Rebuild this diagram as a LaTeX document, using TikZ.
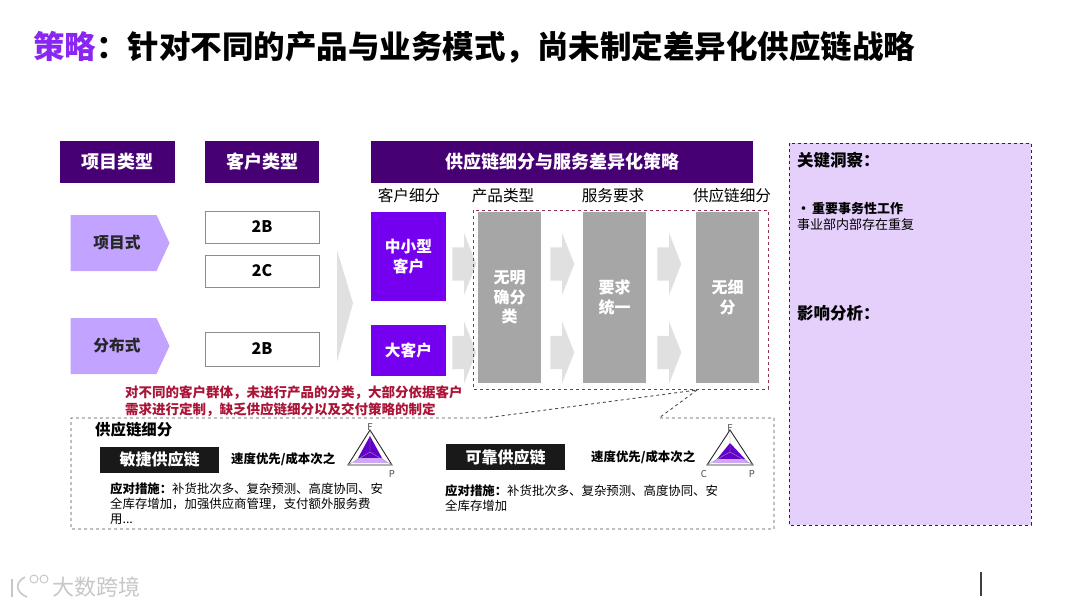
\documentclass[tikz,border=0pt]{standalone}
\usepackage{fontspec}
\setmainfont{Noto Sans CJK SC}
\usetikzlibrary{arrows.meta,positioning,shapes.arrows,shapes.symbols}
\definecolor{acdark}{RGB}{70,0,115}
\definecolor{acviolet}{RGB}{117,0,240}
\definecolor{aclilac}{RGB}{194,163,255}
\definecolor{acpanel}{RGB}{228,208,251}
\definecolor{acred}{RGB}{170,20,55}
\definecolor{acgrey}{RGB}{166,166,166}
\definecolor{acpale}{RGB}{224,224,224}

\begin{document}
\begin{tikzpicture}[x=1pt,y=-1pt,
  head/.style={fill=acdark,text=white,font=\fontsize{18}{22}\selectfont\bfseries,minimum height=42pt,inner sep=0pt},
  tag/.style={signal,signal to=east,signal pointer angle=130,fill=aclilac,text=black!85,font=\fontsize{15.7}{18}\selectfont\bfseries,minimum width=99pt,minimum height=56pt,inner sep=0pt},
  cust/.style={draw=black!45,fill=white,font=\fontsize{16}{18}\selectfont\bfseries,minimum width=114pt,minimum height=32pt,inner sep=0pt},
  seg/.style={fill=acviolet,text=white,align=center,font=\fontsize{15.7}{20}\selectfont\bfseries,minimum width=75pt,inner sep=0pt},
  col/.style={font=\fontsize{15.6}{18}\selectfont,inner sep=0pt},
  bar/.style={fill=acgrey,text=white,align=center,font=\fontsize{16}{19.5}\selectfont\bfseries,minimum width=63pt,minimum height=171pt,inner sep=0pt},
  flowarrow/.style={single arrow,fill=acpale,minimum height=24pt,minimum width=62pt,single arrow head extend=14.5pt,single arrow tip angle=137,inner xsep=0pt,inner ysep=16.5pt},
  blackbox/.style={fill=black!90,text=white,font=\fontsize{16}{18}\selectfont\bfseries,minimum width=119pt,minimum height=26pt,inner sep=0pt},
  note/.style={anchor=west,align=left,inner sep=0pt,font=\fontsize{12.4}{15.3}\selectfont},
  smallb/.style={anchor=west,inner sep=0pt,font=\fontsize{12.4}{14}\selectfont\bfseries},
  apex/.style={inner sep=0pt,text=black!70,font=\fontsize{9.5}{10}\selectfont},
  outline/.style={dashed,draw=black!70,line width=0.9pt}]
\useasboundingbox (0,0) rectangle (1080,608);
% title
\node[anchor=west,inner sep=0pt,font=\fontsize{31.5}{36}\selectfont\bfseries] (title) at (33,47) {\textcolor{acviolet!85!white}{策略}：针对不同的产品与业务模式，尚未制定差异化供应链战略};
% left columns
\node[head,minimum width=115pt] (typeproj) at (117.5,162) {项目类型};
\node[head,minimum width=114pt] (typecust) at (262,162) {客户类型};
\node[head,minimum width=382pt] (typesc) at (562,161.5) {供应链细分与服务差异化策略};
\node[tag] (proj) at (113.5,243) {\hspace{7pt}项目式};
\node[tag] (dist) at (113.5,346) {\hspace{7pt}分布式};
\node[cust] (bb) at (262,227) {2B};
\node[cust] (bc) at (262,271) {2C};
\node[cust,minimum height=34pt] (bbb) at (262,349) {2B};
\fill[acpale] (337,250) -- (353,303) -- (337,362) -- cycle;
% segmentation
\node[col] (l1) at (409,196) {客户细分};
\node[col] (l2) at (503,196) {产品类型};
\node[col] (l3) at (613,196) {服务要求};
\node[col] (l4) at (732,196) {供应链细分};
\node[seg,minimum height=89pt] (mid) at (408.5,256.5) {中小型\\客户};
\node[seg,minimum height=51pt] (big) at (408.5,350.5) {大客户};
\node[flowarrow] (a1) at (461,264) {};
\node[flowarrow] (a2) at (559,264) {};
\node[flowarrow] (a3) at (666,264) {};
\node[flowarrow] (b1) at (461,352.5) {};
\node[flowarrow] (b2) at (559,352.5) {};
\node[flowarrow] (b3) at (666,352.5) {};
\node[bar] (prod) at (509.5,297.5) {无明\\确分\\类};
\node[bar] (serv) at (614.5,297.5) {要求\\统一};
\node[bar] (chain) at (727.5,297.5) {无细\\分};
\draw[dashed,draw=acred!75!black!85!white,thick] (473,210) rectangle (768,389);
% red remark
\node[note,text=acred,font=\fontsize{13.5}{17}\selectfont\bfseries] (remark) at (125,401.5) {对不同的客户群体，未进行产品的分类，大部分依据客户\\需求进行定制，缺乏供应链细分以及交付策略的制定};
% callout
\coordinate (gapl) at (485,418);
\coordinate (gapr) at (659,418);
\coordinate (tip) at (697,390);
\draw[outline] (tip) -- (gapr) -- (774,418) -- (774,529) -- (71,529) -- (71,418) -- (gapl) -- cycle;
\node[anchor=west,inner sep=0pt,font=\fontsize{15.4}{18}\selectfont\bfseries] (sctitle) at (95,430) {供应链细分};
\node[blackbox] (agile) at (159.5,459.5) {敏捷供应链};
\node[smallb] (speeda) at (231,459) {速度优先/成本次之};
\node[note] (notea) at (110,503.5) {\textbf{应对措施：}补货批次多、复杂预测、高度协同、安\\全库存增加，加强供应商管理，支付额外服务费\\用...};
\node[blackbox] (reliable) at (505.5,457) {可靠供应链};
\node[smallb] (speedb) at (591,457) {速度优先/成本次之};
\node[note] (noteb) at (445,498) {\textbf{应对措施：}补货批次多、复杂预测、高度协同、安\\全库存增加};
% radar marks
\coordinate (fa) at (370,430);
\coordinate (ca) at (348,465);
\coordinate (pa) at (392,465);
\fill[acviolet!85!black] (370,436) -- (382,458) -- (358,458) -- cycle;
\fill[acviolet!35] (358,458) -- (382,458) -- (388,463) -- (353,463) -- cycle;
\draw[black!85,line width=0.9pt] (fa) -- (pa) -- (ca) -- cycle;
\draw[black!40,line width=0.4pt] (fa) -- (370,452) (ca) -- (370,452) (pa) -- (370,452);
\node[apex] (fla) at (370,427) {F};
\node[apex] (pla) at (392,474) {P};
\coordinate (fb) at (730,430);
\coordinate (cb) at (707,465);
\coordinate (pb) at (753,465);
\fill[acviolet!85!black] (730,443) -- (745,459) -- (717,459) -- cycle;
\fill[acviolet!35] (717,459) -- (745,459) -- (749,463) -- (712,463) -- cycle;
\draw[black!85,line width=0.9pt] (fb) -- (pb) -- (cb) -- cycle;
\draw[black!40,line width=0.4pt] (fb) -- (730,452) (cb) -- (730,452) (pb) -- (730,452);
\node[apex] (flb) at (730,428) {F};
\node[apex] (clb) at (704,474) {C};
\node[apex] (plb) at (752,474) {P};
% insight panel
\draw[dashed,draw=acdark!75!acviolet,fill=acpanel,thick] (789,143) rectangle (1031,525);
\node[anchor=west,inner sep=0pt,font=\fontsize{16.5}{18}\selectfont\bfseries] (key) at (797,160) {关键洞察：};
\node[anchor=west,align=left,inner sep=0pt,font=\fontsize{13}{16}\selectfont] (keytxt) at (797,216) {\textbf{\textbullet\hspace{2pt}重要事务性工作}\\事业部内部存在重复};
\node[anchor=west,inner sep=0pt,font=\fontsize{16.5}{18}\selectfont\bfseries] (impact) at (797,313) {影响分析：};
% footer
\draw[black!75,line width=1.2pt] (981,572) -- (981,596);
\node[anchor=west,inner sep=0pt,text=black!22,font=\fontsize{22}{24}\selectfont] (mark) at (52,587) {大数跨境};
\draw[black!22,line width=1.6pt] (12,579) -- (12,597) (25,577) .. controls (15,582) and (15,592) .. (27,597);
\draw[black!22,line width=1pt] (34,579) circle (4pt) (44,579) circle (4pt);
\end{tikzpicture}
\end{document}
